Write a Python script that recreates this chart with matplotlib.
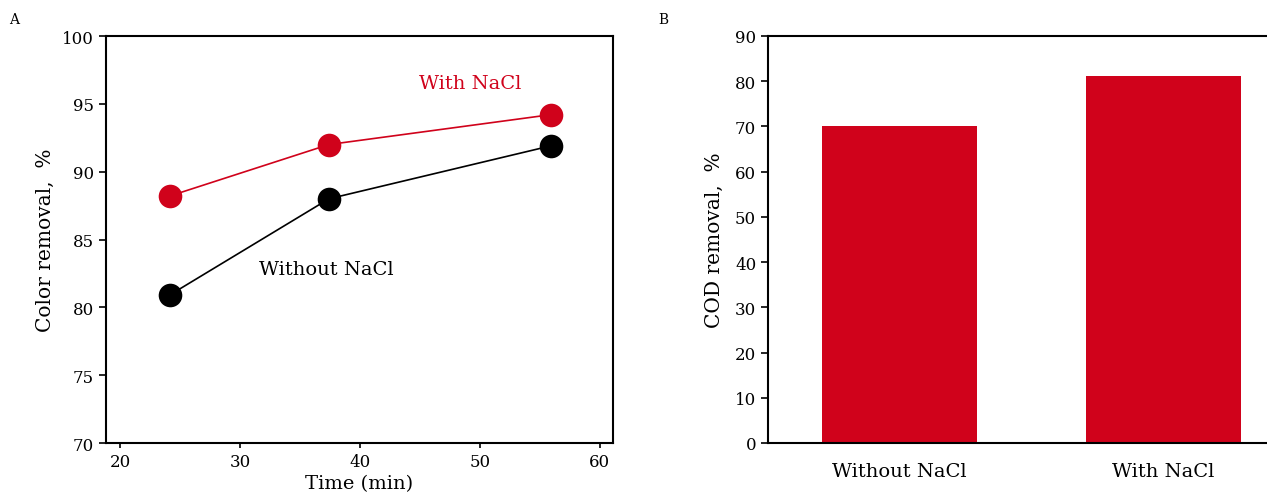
import numpy as np
import matplotlib
matplotlib.use('Agg')
import matplotlib.pyplot as plt

plt.rcParams['font.family'] = 'DejaVu Serif'

# Panel A: colour removal over time
time_min = [24.1, 37.4, 55.9]
with_nacl = [88.2, 92.0, 94.2]
without_nacl = [80.9, 88.0, 91.9]

# Panel B: COD removal
cod_labels = ['Without NaCl', 'With NaCl']
cod_values = [70.1, 81.1]

red = '#d0021b'
W, H = 1267, 502
fig = plt.figure(figsize=(W / 100, H / 100), dpi=100)

ax0 = fig.add_axes([106 / W, 1 - 444 / H, (613 - 106) / W, (444 - 37) / H])
ax1 = fig.add_axes([768 / W, 1 - 444 / H, (1295 - 768) / W, (444 - 37) / H])

ax0.plot(time_min, with_nacl, color=red, lw=1.2, marker='o', ms=17,
         markeredgewidth=0, zorder=3)
ax0.plot(time_min, without_nacl, color='black', lw=1.2, marker='o', ms=17,
         markeredgewidth=0, zorder=3)
ax0.text(49.2, 96.5, 'With NaCl', color=red, fontsize=14, ha='center', va='center')
ax0.text(37.2, 82.8, 'Without NaCl', color='black', fontsize=14, ha='center', va='center')

ax0.set_xlim(18.8, 61.1)
ax0.set_ylim(70, 100)
ax0.set_xticks([20, 30, 40, 50, 60])
ax0.set_yticks([70, 75, 80, 85, 90, 95, 100])
ax0.set_xlabel('Time (min)', fontsize=14, labelpad=3)
ax0.set_ylabel('Color removal,  %', fontsize=14.5, labelpad=5)

ax1.bar(np.arange(len(cod_labels)), cod_values, width=0.59, color=red)
ax1.set_xlim(-0.5, 1.5)
ax1.set_ylim(0, 90)
ax1.set_yticks(np.arange(0, 91, 10))
ax1.set_xticks(np.arange(len(cod_labels)))
ax1.set_xticklabels(cod_labels)
ax1.set_ylabel('COD removal,  %', fontsize=14.5, labelpad=8)
ax1.spines['right'].set_visible(False)

for ax in (ax0, ax1):
    for s in ax.spines.values():
        s.set_linewidth(1.5)
    ax.tick_params(axis='y', labelsize=12, width=1.2, length=5)
    ax.tick_params(axis='x', labelsize=12, width=1.2)

ax1.tick_params(axis='x', labelsize=14, length=0, pad=14)

fig.text(14 / W, 1 - 20 / H, 'A', fontsize=10, ha='center', va='center')
fig.text(663 / W, 1 - 20 / H, 'B', fontsize=10, ha='center', va='center')

fig.savefig('out.png', dpi=100, facecolor='white')
